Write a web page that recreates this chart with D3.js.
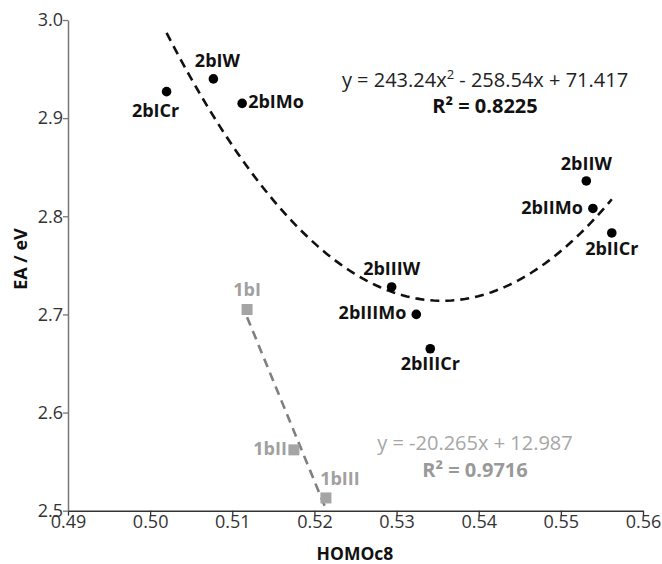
<!DOCTYPE html>
<html><head><meta charset="utf-8">
<script src="https://cdn.jsdelivr.net/npm/d3@7"></script>
<style>body{margin:0;background:#fff}svg{display:block}text{font-family:"Open Sans",sans-serif}</style>
</head><body><svg id="c" width="662" height="564"></svg>
<script>
// Series 2b (black circles)
const names2 = ["2bICr","2bIW","2bIMo","2bIIW","2bIIMo","2bIICr","2bIIIW","2bIIIMo","2bIIICr"];
const x2 = [0.5020,0.5077,0.5112,0.5531,0.5539,0.5562,0.5294,0.5324,0.5341];
const y2 = [2.927,2.940,2.915,2.836,2.808,2.783,2.728,2.700,2.665];
// Series 1b (grey squares)
const names1 = ["1bI","1bII","1bIII"];
const x1 = [0.5118,0.5175,0.5214];
const y1 = [2.705,2.562,2.513];
const xTicks = [0.49,0.50,0.51,0.52,0.53,0.54,0.55,0.56];
const yTicks = [2.5,2.6,2.7,2.8,2.9,3.0];
const eq2 = ["y = 243.24x", "2", " - 258.54x + 71.417"];
const r2a = "R² = 0.8225";
const eq1 = "y = -20.265x + 12.987";
const r2b = "R² = 0.9716";

const svg = d3.select("#c");
const x = d3.scaleLinear().domain([0.49,0.56]).range([68,643]);
const y = d3.scaleLinear().domain([2.5,3.0]).range([510.7,20]);

// axes
const gx = svg.append("g").attr("transform","translate(0,510.7)")
  .call(d3.axisBottom(x).tickValues(xTicks).tickFormat(d3.format(".2f")).tickSize(5).tickSizeOuter(0));
gx.select(".domain").attr("stroke","#333").attr("stroke-width",1.5);
gx.selectAll(".tick line").attr("stroke","#333").attr("stroke-width",1.3);
gx.selectAll(".tick text").attr("font-size",18).attr("fill","#333").attr("dy",0).attr("y",17);
const gy = svg.append("g").attr("transform","translate(68,0)")
  .call(d3.axisLeft(y).tickValues(yTicks).tickFormat(d3.format(".1f")).tickSize(5).tickSizeOuter(0));
gy.select(".domain").attr("stroke","#777").attr("stroke-width",1.5);
gy.selectAll(".tick line").attr("stroke","#777").attr("stroke-width",1.3);
gy.selectAll(".tick text").attr("font-size",18).attr("fill","#333").attr("x",-5);

svg.append("text").attr("x",355).attr("y",560).attr("text-anchor","middle")
  .attr("font-weight","bold").attr("font-size",17.5).attr("fill","#111").text("HOMOc8");
svg.append("text").attr("transform","translate(27,259) rotate(-90)").attr("text-anchor","middle")
  .attr("font-weight","bold").attr("font-size",18).attr("fill","#111").text("EA / eV");

// least-squares trendlines
function polyfit(xs, ys, deg){
  const n = deg+1;
  const A = Array.from({length:n},()=>Array(n+1).fill(0));
  for(let i=0;i<xs.length;i++){
    for(let r=0;r<n;r++){
      for(let c=0;c<n;c++) A[r][c]+=Math.pow(xs[i],r+c);
      A[r][n]+=ys[i]*Math.pow(xs[i],r);
    }
  }
  for(let i=0;i<n;i++){
    let p=i; for(let k=i+1;k<n;k++) if(Math.abs(A[k][i])>Math.abs(A[p][i])) p=k;
    [A[i],A[p]]=[A[p],A[i]];
    for(let k=0;k<n;k++){ if(k===i) continue; const f=A[k][i]/A[i][i]; for(let c=i;c<=n;c++) A[k][c]-=f*A[i][c]; }
  }
  return A.map((row,i)=>row[n]/row[i]);
}
const c2 = polyfit(x2,y2,2), c1 = polyfit(x1,y1,1);
const ev = (c,v)=>c.reduce((s,k,i)=>s+k*Math.pow(v,i),0);
const line = d3.line().x(d=>x(d[0])).y(d=>y(d[1]));
const xs2 = d3.range(0,101).map(i=>d3.min(x2)+(d3.max(x2)-d3.min(x2))*i/100);
svg.append("path").attr("d",line(xs2.map(v=>[v,ev(c2,v)]))).attr("fill","none")
  .attr("stroke","#111").attr("stroke-width",2.6).attr("stroke-dasharray","9,6");
const xs1 = [d3.min(x1), d3.max(x1)];
svg.append("path").attr("d",line(xs1.map(v=>[v,ev(c1,v)]))).attr("fill","none")
  .attr("stroke","#7f7f7f").attr("stroke-width",2.6).attr("stroke-dasharray","9,6");

// points
svg.append("g").selectAll("circle").data(x2).join("circle")
  .attr("cx",(d)=>x(d)).attr("cy",(d,i)=>y(y2[i])).attr("r",4.8).attr("fill","#000");
svg.append("g").selectAll("rect").data(x1).join("rect")
  .attr("x",d=>x(d)-5.5).attr("y",(d,i)=>y(y1[i])-5.5).attr("width",11).attr("height",11).attr("fill","#a5a5a5");

// point labels
const lab2 = [[-11,25,"middle"],[4,-12,"middle"],[6,5,"start"],[0,-11,"middle"],[-10,6,"end"],[0,22,"middle"],[0,-12,"middle"],[-10,5,"end"],[0,21,"middle"]];
svg.append("g").selectAll("text").data(names2).join("text")
  .attr("x",(d,i)=>x(x2[i])+lab2[i][0]).attr("y",(d,i)=>y(y2[i])+lab2[i][1]).attr("text-anchor",(d,i)=>lab2[i][2])
  .attr("font-weight","bold").attr("font-size",18).attr("fill","#111").text(d=>d);
const lab1 = [[0,-14,"middle"],[-7,5,"end"],[14,-13,"middle"]];
svg.append("g").selectAll("text").data(names1).join("text")
  .attr("x",(d,i)=>x(x1[i])+lab1[i][0]).attr("y",(d,i)=>y(y1[i])+lab1[i][1]).attr("text-anchor",(d,i)=>lab1[i][2])
  .attr("font-weight","bold").attr("font-size",18).attr("fill","#a0a0a0").text(d=>d);

// equations
const t1 = svg.append("text").attr("x",485).attr("y",87).attr("text-anchor","middle").attr("font-size",20).attr("fill","#222");
t1.append("tspan").text(eq2[0]);
t1.append("tspan").attr("dy",-8).attr("font-size",13).text(eq2[1]);
t1.append("tspan").attr("dy",8).text(eq2[2]);
svg.append("text").attr("x",485).attr("y",113).attr("text-anchor","middle").attr("font-size",20).attr("font-weight","bold").attr("fill","#111").text(r2a);
svg.append("text").attr("x",475).attr("y",450).attr("text-anchor","middle").attr("font-size",20).attr("fill","#a6a6a6").text(eq1);
svg.append("text").attr("x",475).attr("y",477).attr("text-anchor","middle").attr("font-size",20).attr("font-weight","bold").attr("fill","#999").text(r2b);
</script></body></html>
